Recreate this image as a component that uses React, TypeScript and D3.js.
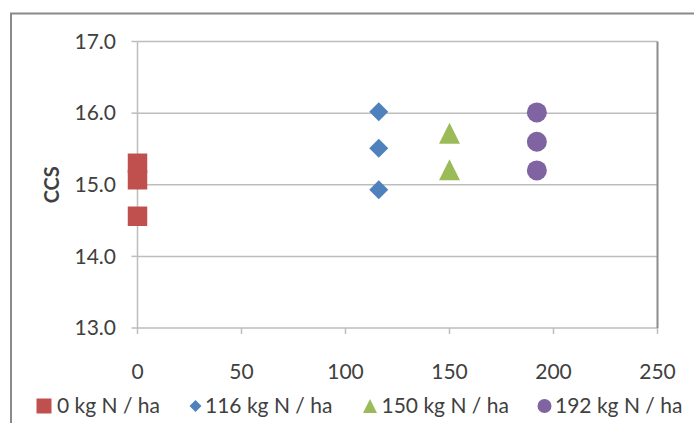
import React from "react";
import * as d3 from "d3";

// N rate (kg N / ha) and CCS readings per treatment
const rates = [0, 116, 150, 192];
const seriesNames = ["0 kg N / ha", "116 kg N / ha", "150 kg N / ha", "192 kg N / ha"];
const ccs0 = [15.3, 15.07, 14.56];
const ccs116 = [16.02, 15.51, 14.93];
const ccs150 = [15.72, 15.21];
const ccs192 = [16.01, 15.6, 15.2];
const xTicks = [0, 50, 100, 150, 200, 250];
const yTicks = [13, 14, 15, 16, 17];

const colors = ["#C0504D", "#4F81BD", "#9BBB59", "#8064A2"];

// Excel-like marker shapes: size = bounding box side
const squareSym = {
  draw(ctx: any, s: number) {
    const h = s / 2;
    ctx.rect(-h, -h, s, s);
  },
};
const diamondSym = {
  draw(ctx: any, s: number) {
    const h = s / 2;
    ctx.moveTo(0, -h);
    ctx.lineTo(h, 0);
    ctx.lineTo(0, h);
    ctx.lineTo(-h, 0);
    ctx.closePath();
  },
};
const triangleSym = {
  draw(ctx: any, s: number) {
    const h = s / 2;
    ctx.moveTo(0, -h);
    ctx.lineTo(h, h);
    ctx.lineTo(-h, h);
    ctx.closePath();
  },
};
const circleSym = {
  draw(ctx: any, s: number) {
    const r = s / 2;
    ctx.moveTo(r, 0);
    ctx.arc(0, 0, r, 0, 2 * Math.PI);
  },
};
const symbols = [squareSym, diamondSym, triangleSym, circleSym];

const W = 694;
const H = 423;
const margin = { left: 137.5, right: 36.5, top: 41.5, bottom: 95 };
const font = "Lato, 'Open Sans', sans-serif";
const textColor = "#404040";

export default function App() {
  const allSeries = [ccs0, ccs116, ccs150, ccs192];
  const x = d3.scaleLinear().domain([0, 250]).range([margin.left, W - margin.right]);
  const y = d3.scaleLinear().domain([13, 17]).range([H - margin.bottom, margin.top]);

  const markerSize = [19.5, 19, 21, 20];
  const legendSize = [15, 12, 14, 14];

  const legendX = [44, 195.5, 370, 544.5];
  const legendTextX = [57, 205, 381.5, 555];
  const legendY = 406;

  return (
    <svg
      width={W}
      height={H}
      style={{ position: "absolute", left: 0, top: 0, background: "#fff" }}
      fontFamily={font}
    >
      {/* chart outer frame */}
      <rect x={11} y={13.5} width={W + 20} height={H + 20} fill="none" stroke="#8a8a8a" strokeWidth={2} />

      {/* grid lines */}
      {yTicks.map((t) => (
        <line key={"g" + t} x1={x(0)} x2={x(250)} y1={y(t)} y2={y(t)} stroke="#bdbdbd" strokeWidth={1.5} />
      ))}
      {/* plot area right border + y axis */}
      <line x1={x(250)} x2={x(250)} y1={y(17)} y2={y(13)} stroke="#8c8c8c" strokeWidth={2} />
      <line x1={x(0)} x2={x(0)} y1={y(17)} y2={y(13)} stroke="#bdbdbd" strokeWidth={1.5} />

      {/* y ticks and labels */}
      {yTicks.map((t) => (
        <g key={"y" + t}>
          <line x1={x(0) - 6} x2={x(0)} y1={y(t)} y2={y(t)} stroke="#bdbdbd" strokeWidth={1.5} />
          <text x={116} y={y(t)} dy="0.35em" textAnchor="end" fontSize={21} fill={textColor}>
            {d3.format(".1f")(t)}
          </text>
        </g>
      ))}

      {/* x ticks and labels */}
      {xTicks.map((t) => (
        <g key={"x" + t}>
          <line x1={x(t)} x2={x(t)} y1={y(13)} y2={y(13) + 6} stroke="#bdbdbd" strokeWidth={1.5} />
          <text x={x(t)} y={372} dy="0.35em" textAnchor="middle" fontSize={21} fill={textColor}>
            {t}
          </text>
        </g>
      ))}

      {/* y axis title */}
      <text
        transform={`translate(52,${(y(13) + y(17)) / 2}) rotate(-90)`}
        dy="0.35em"
        textAnchor="middle"
        fontSize={20}
        fontWeight="bold"
        fill={textColor}
      >
        CCS
      </text>

      {/* points */}
      {allSeries.map((vals, i) =>
        vals.map((v, j) => (
          <path
            key={`p${i}-${j}`}
            transform={`translate(${x(rates[i])},${y(v)})`}
            d={d3.symbol(symbols[i] as any, markerSize[i])() || ""}
            fill={colors[i]}
          />
        ))
      )}

      {/* legend */}
      {seriesNames.map((name, i) => (
        <g key={"l" + i}>
          <path
            transform={`translate(${legendX[i]},${legendY})`}
            d={d3.symbol(symbols[i] as any, legendSize[i])() || ""}
            fill={colors[i]}
          />
          <text x={legendTextX[i]} y={legendY} dy="0.35em" fontSize={21} fill={textColor}>
            {name}
          </text>
        </g>
      ))}
    </svg>
  );
}
